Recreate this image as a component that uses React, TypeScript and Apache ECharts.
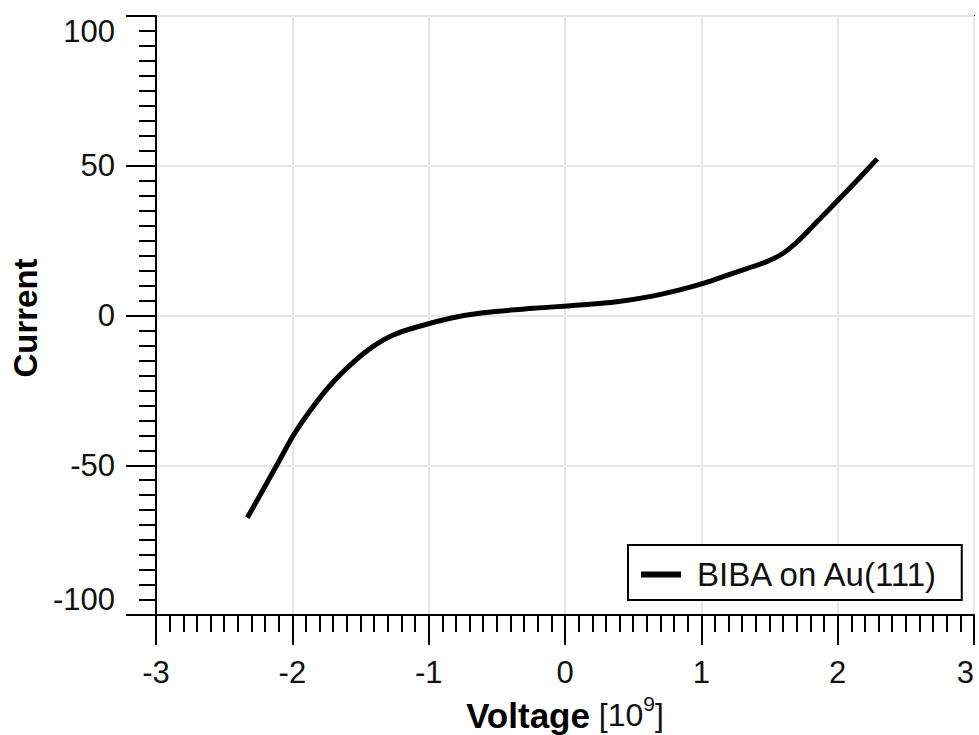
import React, { useEffect, useRef } from "react";
import * as echarts from "echarts";

// I–V sweep, voltage in units of 10^9
const voltage = [
  -2.33, -2.19, -2.09, -1.99, -1.87, -1.72, -1.55, -1.41, -1.26, -1.06, -0.84,
  -0.6, -0.23, 0.11, 0.38, 0.62, 0.87, 1.02, 1.23, 1.48, 1.6, 1.72, 1.85, 2.02,
  2.14, 2.29,
];
const current = [
  -67.5, -56.2, -48.0, -39.8, -31.8, -23.2, -15.5, -10.4, -6.5, -3.5, -0.9, 0.9,
  2.4, 3.5, 4.6, 6.3, 8.9, 10.8, 14.1, 18.0, 20.8, 25.3, 31.4, 39.3, 45.0, 52.3,
];
const seriesName = "BIBA on Au(111)";
const xRange = [-3, 3];
const yRange = [-100, 100];

const FONT = "Liberation Sans, Arial, sans-serif";

export default function App() {
  const ref = useRef<HTMLDivElement>(null);

  useEffect(() => {
    if (!ref.current) return;
    const chart = echarts.init(ref.current, undefined, { renderer: "svg" });
    const points = voltage.map((v, i) => [v, current[i]]);

    chart.setOption({
      animation: false,
      backgroundColor: "#fff",
      grid: {
        left: 156,
        top: 16,
        right: 5,
        bottom: 120,
        outerBoundsMode: "none",
        containLabel: false,
        show: true,
        borderColor: "#000",
        borderWidth: 2,
        backgroundColor: "transparent",
      },
      legend: {
        left: 628,
        top: 545,
        orient: "horizontal",
        padding: [13, 22, 9, 13],
        backgroundColor: "#fff",
        borderColor: "#000",
        borderWidth: 2,
        borderRadius: 0,
        itemWidth: 40,
        itemHeight: 6,
        icon: "rect",
        selectedMode: false,
        textStyle: {
          fontFamily: FONT,
          fontSize: 33,
          color: "#111",
          padding: [0, 0, 0, 11],
        },
        data: [seriesName],
      },
      xAxis: {
        type: "value",
        min: xRange[0],
        max: xRange[1],
        interval: 1,
        name: "{b|Voltage}{n| [10}{s|9}{n|]}",
        nameLocation: "middle",
        nameGap: 75,
        nameTextStyle: {
          rich: {
            b: {
              fontFamily: FONT,
              fontSize: 35,
              fontWeight: "bold",
              color: "#000",
              lineHeight: 45,
            },
            n: { fontFamily: FONT, fontSize: 32, color: "#111", lineHeight: 45 },
            s: {
              fontFamily: FONT,
              fontSize: 21,
              color: "#111",
              lineHeight: 21,
              verticalAlign: "top",
            },
          },
        },
        axisLine: { show: true, onZero: false, lineStyle: { color: "#000", width: 2 } },
        axisTick: { show: true, length: 30, lineStyle: { color: "#000", width: 2 } },
        minorTick: { show: true, splitNumber: 10, length: 17, lineStyle: { color: "#000", width: 2 } },
        axisLabel: {
          fontFamily: FONT,
          fontSize: 31,
          color: "#111",
          margin: 42,
          alignMaxLabel: "right",
          formatter: (v: number) => String(v),
        },
        splitLine: { show: true, lineStyle: { color: "#e6e6e6", width: 2 } },
      },
      yAxis: {
        type: "value",
        min: yRange[0],
        max: yRange[1],
        interval: 50,
        name: "Current",
        nameLocation: "middle",
        nameGap: 114,
        nameTextStyle: {
          fontFamily: FONT,
          fontSize: 33,
          fontWeight: "bold",
          color: "#000",
          padding: [0, 5, 0, 0],
        },
        axisLine: { show: true, onZero: false, lineStyle: { color: "#000", width: 2 } },
        axisTick: { show: true, length: 30, lineStyle: { color: "#000", width: 2 } },
        minorTick: { show: true, splitNumber: 10, length: 17, lineStyle: { color: "#000", width: 2 } },
        axisLabel: {
          fontFamily: FONT,
          fontSize: 31,
          color: "#111",
          margin: 41,
          verticalAlignMaxLabel: "top",
          verticalAlignMinLabel: "bottom",
          formatter: (v: number) => String(v),
        },
        splitLine: { show: true, lineStyle: { color: "#e6e6e6", width: 2 } },
      },
      series: [
        {
          name: seriesName,
          type: "line",
          data: points,
          showSymbol: false,
          symbol: "none",
          smooth: 0.35,
          lineStyle: { color: "#000", width: 5 },
          itemStyle: { color: "#000" },
        },
      ],
    });

    return () => chart.dispose();
  }, []);

  return (
    <div
      ref={ref}
      style={{ position: "absolute", left: 0, top: 0, width: 979, height: 735 }}
    />
  );
}
